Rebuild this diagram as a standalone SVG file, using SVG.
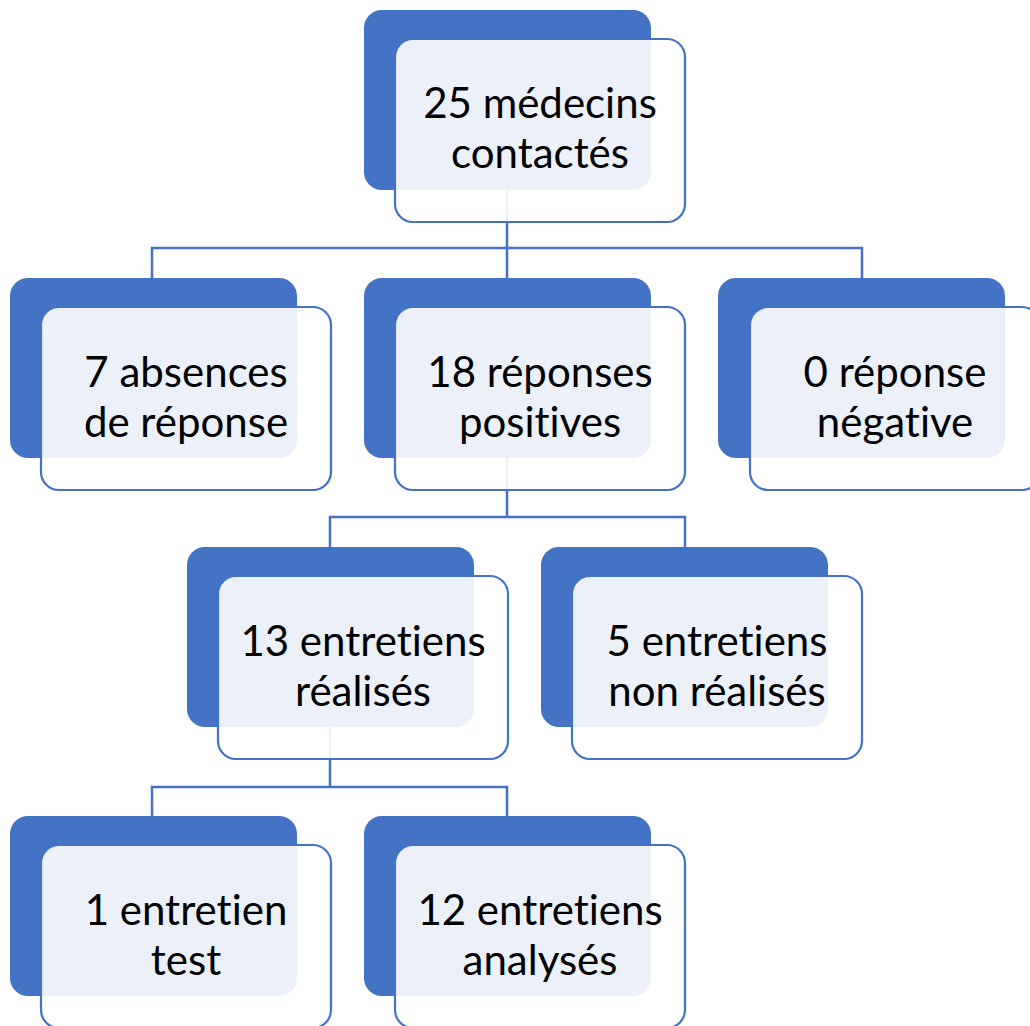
<svg xmlns="http://www.w3.org/2000/svg" width="1030" height="1026" viewBox="0 0 1030 1026">
<style>
.back{fill:#4472c4;}
.front{fill:#ffffff;fill-opacity:0.9;stroke:#4472c4;stroke-width:2.2;}
.conn{fill:none;stroke:#4472c4;stroke-width:2.5;}
text{font-family:Lato,"Liberation Sans",sans-serif;font-size:42px;fill:#000;text-anchor:middle;font-variant-ligatures:none;font-feature-settings:"liga" 0,"clig" 0;}
</style>
<rect width="1030" height="1026" fill="#ffffff"/>
<g id="connectors">
<path class="conn" d="M507,190 V248 M152,278 V248 H862 V278 M507,248 V278"/>
<path class="conn" d="M507,458 V517 M330,547 V517 H685 V547"/>
<path class="conn" d="M330,727 V787 M152,816 V787 H507 V816"/>
</g>
<g id="n-root">
<rect class="back" x="364" y="10" width="287" height="180" rx="18"/>
<rect class="front" x="395" y="39" width="290" height="183" rx="18"/>
<text x="540" y="118">25 médecins</text>
<text x="540" y="168">contactés</text>
</g>
<g id="n-absences">
<rect class="back" x="10" y="278" width="287" height="180" rx="18"/>
<rect class="front" x="41" y="307" width="290" height="183" rx="18"/>
<text x="186" y="387">7 absences</text>
<text x="186" y="437">de réponse</text>
</g>
<g id="n-positives">
<rect class="back" x="364" y="278" width="287" height="180" rx="18"/>
<rect class="front" x="395" y="307" width="290" height="183" rx="18"/>
<text x="540" y="387">18 réponses</text>
<text x="540" y="437">positives</text>
</g>
<g id="n-negative">
<rect class="back" x="718" y="278" width="287" height="180" rx="18"/>
<rect class="front" x="750" y="307" width="290" height="183" rx="18"/>
<text x="895" y="387">0 réponse</text>
<text x="895" y="437">négative</text>
</g>
<g id="n-realises">
<rect class="back" x="187" y="547" width="287" height="180" rx="18"/>
<rect class="front" x="218" y="576" width="290" height="183" rx="18"/>
<text x="363" y="656">13 entretiens</text>
<text x="363" y="706">réalisés</text>
</g>
<g id="n-nonrealises">
<rect class="back" x="541" y="547" width="287" height="180" rx="18"/>
<rect class="front" x="572" y="576" width="290" height="183" rx="18"/>
<text x="717" y="656">5 entretiens</text>
<text x="717" y="706">non réalisés</text>
</g>
<g id="n-test">
<rect class="back" x="10" y="816" width="287" height="180" rx="18"/>
<rect class="front" x="41" y="845" width="290" height="183" rx="18"/>
<text x="186" y="925">1 entretien</text>
<text x="186" y="975">test</text>
</g>
<g id="n-analyses">
<rect class="back" x="364" y="816" width="287" height="180" rx="18"/>
<rect class="front" x="395" y="845" width="290" height="183" rx="18"/>
<text x="540" y="925">12 entretiens</text>
<text x="540" y="975">analysés</text>
</g>
</svg>
